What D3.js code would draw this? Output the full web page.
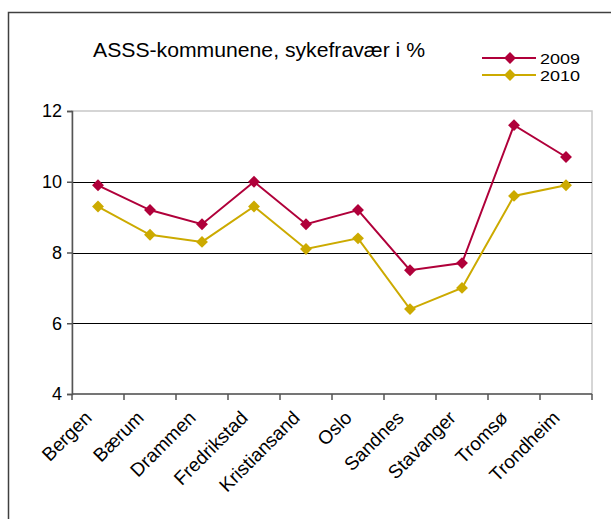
<!DOCTYPE html>
<html>
<head>
<meta charset="utf-8">
<script src="https://cdn.jsdelivr.net/npm/d3@7"></script>
<style>
  body { margin: 0; background: #fff; }
  text { font-family: Arial, "Liberation Sans", sans-serif; fill: #000; }
</style>
</head>
<body>
<div id="chart"></div>
<script>
// values
var kommuner = ["Bergen", "Bærum", "Drammen", "Fredrikstad", "Kristiansand", "Oslo", "Sandnes", "Stavanger", "Tromsø", "Trondheim"];
var years = ["2009", "2010"];
var values2009 = [9.9, 9.2, 8.8, 10.0, 8.8, 9.2, 7.5, 7.7, 11.6, 10.7];
var values2010 = [9.3, 8.5, 8.3, 9.3, 8.1, 8.4, 6.4, 7.0, 9.6, 9.9];
var yTicks = [4, 6, 8, 10, 12];

var width = 611, height = 519;
var margin = {top: 111, right: 19, bottom: 125, left: 72};
var colors = {"2009": "#b0003a", "2010": "#ccaa00"};

var svg = d3.select("#chart").append("svg")
    .attr("width", width)
    .attr("height", height);

// outer frame (runs off the right and bottom edge)
svg.append("rect")
    .attr("x", 8.5).attr("y", 12.5)
    .attr("width", width + 20).attr("height", height + 20)
    .attr("fill", "none")
    .attr("stroke", "#404040")
    .attr("stroke-width", 1.5);

var x = d3.scaleBand()
    .domain(kommuner)
    .range([margin.left, width - margin.right]);

var y = d3.scaleLinear()
    .domain([4, 12])
    .range([height - margin.bottom, margin.top]);

// plot area border (light grey top / right)
svg.append("rect")
    .attr("x", margin.left).attr("y", y(12))
    .attr("width", x.range()[1] - margin.left)
    .attr("height", y(4) - y(12))
    .attr("fill", "none")
    .attr("stroke", "#c8c8c8")
    .attr("stroke-width", 1.5);

// gridlines
svg.append("g")
    .selectAll("line")
    .data(yTicks.filter(function(d) { return d > 4 && d < 12; }))
    .enter().append("line")
    .attr("x1", margin.left)
    .attr("x2", x.range()[1])
    .attr("y1", function(d) { return Math.round(y(d)) + 0.5; })
    .attr("y2", function(d) { return Math.round(y(d)) + 0.5; })
    .attr("stroke", "#000")
    .attr("stroke-width", 1);

// y axis
var yAxis = svg.append("g")
    .attr("transform", "translate(" + margin.left + ",0)")
    .call(d3.axisLeft(y).tickValues(yTicks).tickSize(5).tickPadding(5));
yAxis.selectAll("text").style("font-size", "18px").attr("font-family", "Arial, 'Liberation Sans', sans-serif");
yAxis.selectAll("line, path").attr("stroke", "#555").attr("stroke-width", 1.5);

// x axis with ticks between categories
var xAxis = svg.append("g")
    .attr("transform", "translate(0," + y(4) + ")");
xAxis.append("line")
    .attr("x1", margin.left).attr("x2", x.range()[1])
    .attr("stroke", "#555").attr("stroke-width", 1.5);
var boundaries = kommuner.map(function(d) { return x(d); }).concat([x.range()[1]]);
xAxis.selectAll(".tick")
    .data(boundaries)
    .enter().append("line")
    .attr("x1", function(d) { return d; })
    .attr("x2", function(d) { return d; })
    .attr("y1", 0).attr("y2", 6)
    .attr("stroke", "#555").attr("stroke-width", 1.5);
xAxis.selectAll(".label")
    .data(kommuner)
    .enter().append("text")
    .attr("text-anchor", "end")
    .style("font-size", "19px")
    .attr("transform", function(d) {
        return "translate(" + (x(d) + x.bandwidth() / 2 - 5) + ",25) rotate(-45)";
    })
    .text(function(d) { return d; });

// series
var series = [
    {year: "2009", values: values2009},
    {year: "2010", values: values2010}
];

var line = d3.line()
    .x(function(d, i) { return x(kommuner[i]) + x.bandwidth() / 2; })
    .y(function(d) { return y(d); });

var diamond = d3.symbol().type(d3.symbolDiamond2).size(90);

series.forEach(function(s) {
    svg.append("path")
        .datum(s.values)
        .attr("d", line)
        .attr("fill", "none")
        .attr("stroke", colors[s.year])
        .attr("stroke-width", 2);
    svg.append("g")
        .selectAll("path")
        .data(s.values)
        .enter().append("path")
        .attr("d", diamond)
        .attr("transform", function(d, i) {
            return "translate(" + (x(kommuner[i]) + x.bandwidth() / 2) + "," + y(d) + ")";
        })
        .attr("fill", colors[s.year]);
});

// title
svg.append("text")
    .attr("x", 93)
    .attr("y", 57)
    .style("font-size", "20px")
    .attr("textLength", 332)
    .attr("lengthAdjust", "spacingAndGlyphs")
    .text("ASSS-kommunene, sykefravær i %");

// legend
var legend = svg.append("g")
    .selectAll("g")
    .data(years)
    .enter().append("g")
    .attr("transform", function(d, i) { return "translate(482," + (58 + i * 17) + ")"; });
legend.append("line")
    .attr("x1", 0).attr("x2", 54)
    .attr("stroke", function(d) { return colors[d]; })
    .attr("stroke-width", 2);
legend.append("path")
    .attr("d", diamond)
    .attr("transform", "translate(28,0)")
    .attr("fill", function(d) { return colors[d]; });
legend.append("text")
    .attr("x", 58)
    .attr("y", 6)
    .style("font-size", "15px")
    .attr("textLength", 40)
    .attr("lengthAdjust", "spacingAndGlyphs")
    .text(function(d) { return d; });
</script>
</body>
</html>
